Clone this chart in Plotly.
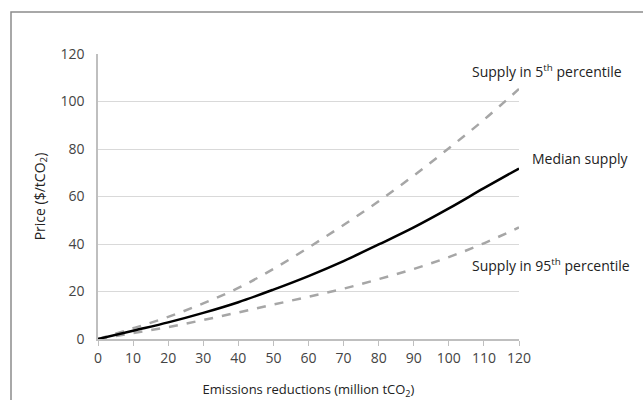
import plotly.graph_objects as go

x_vals = [0, 10, 20, 30, 40, 50, 60, 70, 80, 90, 100, 110, 120]
median_supply = [0, 3.5, 7, 11, 15.5, 20.8, 26.5, 32.8, 39.8, 47, 55, 63.5, 71.8]
supply_p5 = [0, 4.5, 9.3, 15, 21.5, 29.5, 38.5, 48, 58, 68.8, 80.3, 92.3, 105.3]
supply_p95 = [0, 2.5, 5, 8, 11.2, 14.5, 17.8, 21.2, 25.2, 29.5, 34.5, 40.3, 47]

x_ticks = list(range(0, 121, 10))
y_ticks = list(range(0, 121, 20))

FONT = "Open Sans, Liberation Sans, sans-serif"
L, R, T, B = 98, 519, 54, 339
W, H = R - L, B - T

fig = go.Figure()
fig.add_trace(go.Scatter(x=x_vals, y=supply_p5, mode="lines", line=dict(color="#a6a6a6", width=2.5, dash="dash", shape="spline"), showlegend=False))
fig.add_trace(go.Scatter(x=x_vals, y=supply_p95, mode="lines", line=dict(color="#a6a6a6", width=2.5, dash="dash", shape="spline"), showlegend=False))
fig.add_trace(go.Scatter(x=x_vals, y=median_supply, mode="lines", line=dict(color="#000000", width=2.5, shape="spline"), showlegend=False))

annots = [
    (470, 71, "Supply in 5<sup>th</sup> percentile"),
    (530, 158, "Median supply"),
    (470, 265, "Supply in 95<sup>th</sup> percentile"),
]
for px, py, txt in annots:
    fig.add_annotation(x=(px - L) / W, y=(B - py) / H, xref="paper", yref="paper", text=txt,
                       showarrow=False, xanchor="left", yanchor="middle",
                       font=dict(family=FONT, size=14, color="#222"))

fig.add_shape(type="rect", xref="paper", yref="paper",
              x0=(11 - L) / W, x1=(650 - L) / W,
              y0=(B - 410) / H, y1=(B - 12) / H,
              line=dict(color="#8c8c8c", width=1.5), fillcolor="rgba(0,0,0,0)", layer="below")

fig.update_layout(
    width=643, height=400,
    margin=dict(l=L, r=643 - R, t=T, b=400 - B, autoexpand=False),
    paper_bgcolor="white", plot_bgcolor="white",
    font=dict(family=FONT, size=13, color="#444"),
    xaxis=dict(range=[0, 120], tickvals=x_ticks, showgrid=False, showline=True,
               linecolor="#bfbfbf", linewidth=1.5, ticks="outside", ticklen=5,
               tickcolor="#bfbfbf", zeroline=False, automargin=False,
               tickfont=dict(size=14),
               title=dict(text="Emissions reductions (million tCO<sub>2</sub>)", standoff=24,
                          font=dict(size=13, color="#222"))),
    yaxis=dict(range=[0, 120], tickvals=y_ticks, showgrid=True, gridcolor="#d9d9d9",
               gridwidth=1.2, showline=True, linecolor="#bfbfbf", linewidth=1.5,
               ticks="", zeroline=False, automargin=False, ticklabelstandoff=9,
               tickfont=dict(size=14),
               title=dict(text="Price ($/tCO<sub>2</sub>)", standoff=12,
                          font=dict(size=14, color="#222"))),
)

fig.write_html("out.html", config={"displayModeBar": False},
               post_script="document.body.style.margin='0';document.body.style.padding='0';")
